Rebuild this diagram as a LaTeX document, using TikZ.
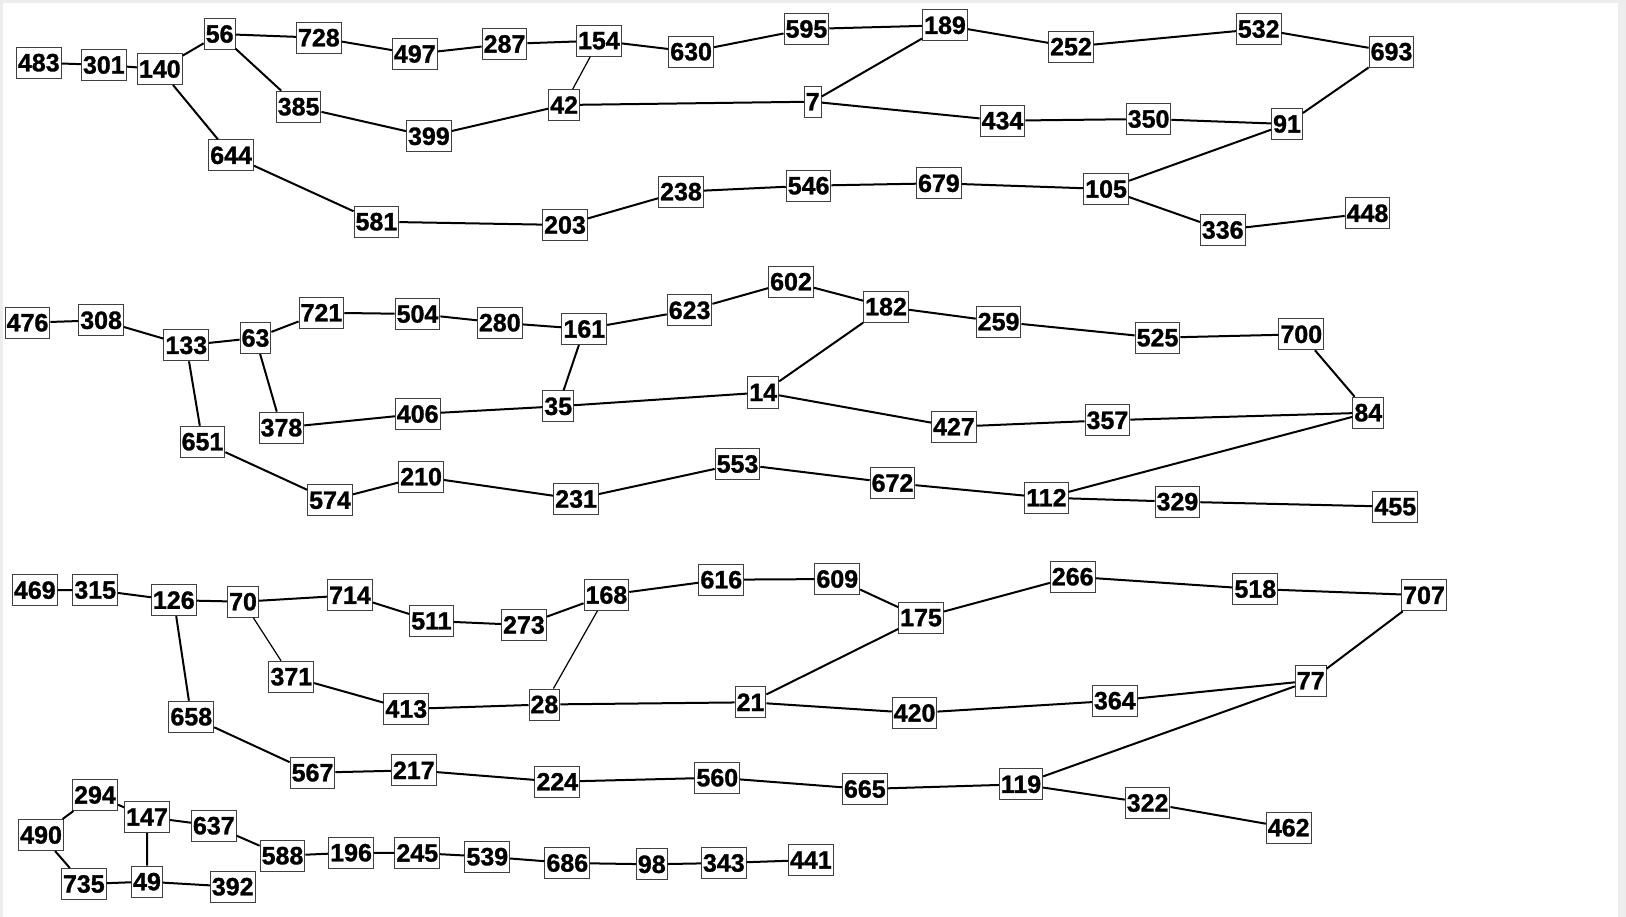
\documentclass[tikz,border=0pt]{standalone}
\usepackage{fontspec}
\setmainfont{Liberation Sans}[BoldFeatures={FakeBold=1.2}]
\begin{document}
\begin{tikzpicture}[x=1pt,y=-1pt,
  nd/.style={draw=black!75,line width=1pt,fill=white,inner xsep=1.5pt,inner ysep=0pt,
    minimum height=31pt,font=\fontsize{25}{25}\selectfont\bfseries},
  ed/.style={line width=2pt,black},
  edthin/.style={line width=1.2pt,black}]
\useasboundingbox (0,0) rectangle (1626,917);
\fill[black!7] (0,0) rectangle (1626,917);
\fill[white] (3,3) rectangle (1618,917);
% ---- top graph
\node[nd] (n483) at (38.8,62.7) {483};
\node[nd] (n301) at (103.8,65) {301};
\node[nd] (n140) at (159.8,69) {140};
\node[nd] (n56) at (219.6,34) {56};
\node[nd] (n728) at (318.9,37.7) {728};
\node[nd] (n497) at (414.8,54) {497};
\node[nd] (n287) at (504.5,44) {287};
\node[nd] (n385) at (298.6,106.7) {385};
\node[nd] (n399) at (428.9,136.3) {399};
\node[nd] (n644) at (231.1,155.3) {644};
\node[nd] (n581) at (376.4,221.7) {581};
\node[nd] (n154) at (598.9,40.7) {154};
\node[nd] (n630) at (691.1,51.7) {630};
\node[nd] (n595) at (806.4,29) {595};
\node[nd] (n189) at (945,25.3) {189};
\node[nd] (n252) at (1071,46.7) {252};
\node[nd] (n42) at (564.1,105) {42};
\node[nd] (n7) at (812.7,101.7) {7};
\node[nd] (n434) at (1002.5,120.7) {434};
\node[nd] (n238) at (681,191.7) {238};
\node[nd] (n546) at (808.6,185.7) {546};
\node[nd] (n679) at (938.9,183.3) {679};
\node[nd] (n203) at (565,225) {203};
\node[nd] (n532) at (1258.7,29) {532};
\node[nd] (n693) at (1391.5,51.7) {693};
\node[nd] (n350) at (1148.6,119) {350};
\node[nd] (n91) at (1287,124) {91};
\node[nd] (n105) at (1106.1,189) {105};
\node[nd] (n336) at (1222.7,230) {336};
\node[nd] (n448) at (1367.5,213.3) {448};
% ---- middle graph
\node[nd] (n476) at (27.5,322.7) {476};
\node[nd] (n308) at (101.1,320.3) {308};
\node[nd] (n133) at (186.3,345.3) {133};
\node[nd] (n63) at (255.5,338) {63};
\node[nd] (n721) at (321.4,312.7) {721};
\node[nd] (n504) at (417.5,314) {504};
\node[nd] (n280) at (499.8,322.7) {280};
\node[nd] (n378) at (281.4,427.7) {378};
\node[nd] (n406) at (417.7,414) {406};
\node[nd] (n651) at (202.5,441.7) {651};
\node[nd] (n574) at (330,500.3) {574};
\node[nd] (n210) at (421.1,476.7) {210};
\node[nd] (n161) at (584.3,329) {161};
\node[nd] (n623) at (689.6,310.3) {623};
\node[nd] (n602) at (791,281.7) {602};
\node[nd] (n182) at (886,306.7) {182};
\node[nd] (n259) at (998.6,321.7) {259};
\node[nd] (n35) at (558.2,406.3) {35};
\node[nd] (n14) at (763.2,392.5) {14};
\node[nd] (n427) at (953.9,426.7) {427};
\node[nd] (n553) at (737.5,464) {553};
\node[nd] (n672) at (892.5,483) {672};
\node[nd] (n231) at (576.1,499) {231};
\node[nd] (n112) at (1046.4,497.7) {112};
\node[nd] (n525) at (1157.5,337.7) {525};
\node[nd] (n700) at (1301.3,334.3) {700};
\node[nd] (n84) at (1368.3,412.7) {84};
\node[nd] (n357) at (1107.4,420.3) {357};
\node[nd] (n329) at (1177.4,501.7) {329};
\node[nd] (n455) at (1395.3,506.7) {455};
% ---- bottom graph
\node[nd] (n469) at (34.8,590.2) {469};
\node[nd] (n315) at (95.2,590) {315};
\node[nd] (n126) at (173.8,600.2) {126};
\node[nd] (n70) at (243,601.7) {70};
\node[nd] (n714) at (350,595.3) {714};
\node[nd] (n511) at (431.4,621) {511};
\node[nd] (n273) at (523.9,625) {273};
\node[nd] (n371) at (291.3,676.7) {371};
\node[nd] (n413) at (406.3,709) {413};
\node[nd] (n658) at (191.3,716.7) {658};
\node[nd] (n567) at (312.5,772.7) {567};
\node[nd] (n217) at (413.8,770.3) {217};
\node[nd] (n28) at (544.4,704.5) {28};
\node[nd] (n168) at (606.4,595) {168};
\node[nd] (n616) at (721.3,579.7) {616};
\node[nd] (n609) at (837.3,579) {609};
\node[nd] (n175) at (921,617.7) {175};
\node[nd] (n266) at (1072.7,576.7) {266};
\node[nd] (n21) at (750.5,702.3) {21};
\node[nd] (n420) at (914.6,713) {420};
\node[nd] (n224) at (557.3,781.7) {224};
\node[nd] (n560) at (717.3,777.7) {560};
\node[nd] (n665) at (864.8,789) {665};
\node[nd] (n119) at (1021,784.3) {119};
\node[nd] (n518) at (1255.3,589) {518};
\node[nd] (n707) at (1424,595.3) {707};
\node[nd] (n364) at (1114.8,700.7) {364};
\node[nd] (n77) at (1310.7,680.7) {77};
\node[nd] (n322) at (1147.6,803) {322};
\node[nd] (n462) at (1288.7,827.7) {462};
% ---- bottom-left graph
\node[nd] (n294) at (95,795) {294};
\node[nd] (n147) at (147,817) {147};
\node[nd] (n637) at (213.8,825.7) {637};
\node[nd] (n490) at (41.1,835) {490};
\node[nd] (n735) at (83.8,884) {735};
\node[nd] (n49) at (147,881.7) {49};
\node[nd] (n392) at (232.7,886.7) {392};
\node[nd] (n588) at (282.5,855.7) {588};
\node[nd] (n196) at (351.1,852.7) {196};
\node[nd] (n245) at (417.3,853) {245};
\node[nd] (n539) at (487.3,856.7) {539};
\node[nd] (n686) at (567.3,863) {686};
\node[nd] (n98) at (651.8,864.3) {98};
\node[nd] (n343) at (723.8,863) {343};
\node[nd] (n441) at (810.9,860) {441};
% ---- edges
\draw[ed] (n483)--(n301) (n301)--(n140) (n140)--(n56) (n140)--(n644)
  (n56)--(n728) (n56)--(n385) (n728)--(n497) (n497)--(n287) (n287)--(n154)
  (n154)--(n630) (n630)--(n595) (n595)--(n189) (n189)--(n252) (n189)--(n7)
  (n252)--(n532) (n532)--(n693) (n693)--(n91) (n385)--(n399) (n399)--(n42)
  (n42)--(n7) (n7)--(n434) (n434)--(n350) (n350)--(n91) (n91)--(n105)
  (n644)--(n581) (n581)--(n203) (n203)--(n238) (n238)--(n546) (n546)--(n679)
  (n679)--(n105) (n105)--(n336) (n336)--(n448);
\draw[edthin] (n154)--(n42);
\draw[ed] (n476)--(n308) (n308)--(n133) (n133)--(n63) (n133)--(n651)
  (n63)--(n721) (n63)--(n378) (n721)--(n504) (n504)--(n280) (n280)--(n161)
  (n161)--(n623) (n161)--(n35) (n623)--(n602) (n602)--(n182) (n182)--(n259)
  (n182)--(n14) (n259)--(n525) (n525)--(n700) (n700)--(n84) (n378)--(n406)
  (n406)--(n35) (n35)--(n14) (n14)--(n427) (n427)--(n357) (n357)--(n84)
  (n84)--(n112) (n651)--(n574) (n574)--(n210) (n210)--(n231) (n231)--(n553)
  (n553)--(n672) (n672)--(n112) (n112)--(n329) (n329)--(n455);
\draw[ed] (n469)--(n315) (n315)--(n126) (n126)--(n70) (n126)--(n658)
  (n70)--(n714) (n714)--(n511) (n511)--(n273) (n273)--(n168)
  (n168)--(n616) (n616)--(n609) (n609)--(n175) (n175)--(n266) (n175)--(n21)
  (n266)--(n518) (n518)--(n707) (n707)--(n77) (n371)--(n413) (n413)--(n28)
  (n28)--(n21) (n21)--(n420) (n420)--(n364) (n364)--(n77) (n77)--(n119)
  (n658)--(n567) (n567)--(n217) (n217)--(n224) (n224)--(n560) (n560)--(n665)
  (n665)--(n119) (n119)--(n322) (n322)--(n462);
\draw[edthin] (n70)--(n371) (n168)--(n28);
\draw[ed] (n490)--(n294) (n490)--(n735) (n294)--(n147) (n147)--(n637)
  (n147)--(n49) (n735)--(n49) (n49)--(n392) (n637)--(n588) (n588)--(n196)
  (n196)--(n245) (n245)--(n539) (n539)--(n686) (n686)--(n98) (n98)--(n343)
  (n343)--(n441);
\end{tikzpicture}
\end{document}
